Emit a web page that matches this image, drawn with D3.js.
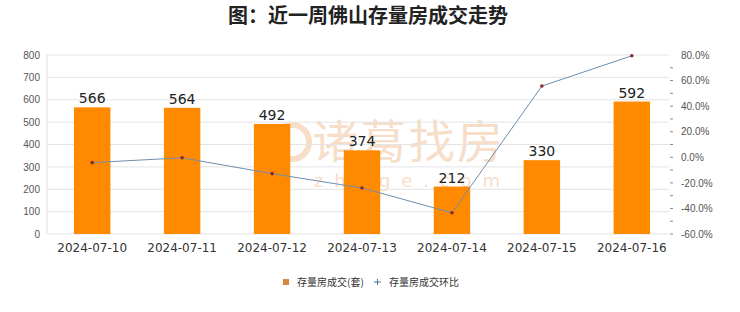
<!DOCTYPE html>
<html>
<head>
<meta charset="utf-8">
<script src="https://cdn.jsdelivr.net/npm/d3@7"></script>
<style>
  body { margin: 0; background: #fff; }
  svg { font-family: "Noto Sans CJK SC", "DejaVu Sans", sans-serif; }
</style>
</head>
<body>
<div id="vis"></div>
<script>
const FRAME_WIDTH = 740;
const FRAME_HEIGHT = 312;
const MARGINS = {left: 47, right: 63, top: 55, bottom: 78};

const VIS_WIDTH = FRAME_WIDTH - MARGINS.left - MARGINS.right;
const VIS_HEIGHT = FRAME_HEIGHT - MARGINS.top - MARGINS.bottom;

// data
const dates = ["2024-07-10", "2024-07-11", "2024-07-12", "2024-07-13", "2024-07-14", "2024-07-15", "2024-07-16"];
const deals = [566, 564, 492, 374, 212, 330, 592];
const change = [-4.2, -0.4, -12.8, -24.0, -43.4, 55.7, 79.4];
const leftTicks = [0, 100, 200, 300, 400, 500, 600, 700, 800];
const rightTicks = [-60, -40, -20, 0, 20, 40, 60, 80];

const FRAME = d3.select("#vis")
  .append("svg")
    .attr("width", FRAME_WIDTH)
    .attr("height", FRAME_HEIGHT);

const X_SCALE = d3.scaleBand()
  .domain(dates)
  .range([MARGINS.left, MARGINS.left + VIS_WIDTH])
  .paddingInner(0.595)
  .paddingOuter(0.3);

const Y_SCALE = d3.scaleLinear()
  .domain([0, 800])
  .range([MARGINS.top + VIS_HEIGHT, MARGINS.top]);

const Y2_SCALE = d3.scaleLinear()
  .domain([-60, 80])
  .range([MARGINS.top + VIS_HEIGHT, MARGINS.top]);

// watermark (drawn under everything)
const wm = FRAME.append("g").attr("opacity", 0.45);
wm.append("circle")
  .attr("cx", 292).attr("cy", 142).attr("r", 17)
  .attr("fill", "none").attr("stroke", "#eeb78a").attr("stroke-width", 6);
wm.append("text")
  .attr("x", 312).attr("y", 158)
  .attr("textLength", 191)
  .style("font-size", "46px")
  .attr("fill", "#eeb78a")
  .text("诸葛找房");
wm.append("text")
  .attr("x", 314).attr("y", 187)
  .attr("textLength", 186)
  .style("font-size", "18px")
  .style("font-family", "DejaVu Sans, sans-serif")
  .attr("fill", "#eeb78a")
  .text("zhuge.com");

// grid lines
FRAME.append("g")
  .selectAll("line")
  .data(leftTicks)
  .enter()
  .append("line")
    .attr("x1", MARGINS.left)
    .attr("x2", MARGINS.left + VIS_WIDTH - 8)
    .attr("y1", d => Y_SCALE(d))
    .attr("y2", d => Y_SCALE(d))
    .attr("stroke", "#e4e4e4");

FRAME.append("line")
  .attr("x1", MARGINS.left).attr("x2", MARGINS.left)
  .attr("y1", MARGINS.top).attr("y2", MARGINS.top + VIS_HEIGHT)
  .attr("stroke", "#e0e0e0");

// left axis
const leftAxis = FRAME.append("g")
  .attr("transform", "translate(" + MARGINS.left + ",0)")
  .call(d3.axisLeft(Y_SCALE).tickValues(leftTicks).tickSize(0).tickPadding(7));
leftAxis.select(".domain").remove();
leftAxis.selectAll("text")
  .attr("fill", "#555")
  .style("font-size", "10px")
  .style("font-family", "Liberation Sans, Arial, sans-serif");

// right axis
const rightX = MARGINS.left + VIS_WIDTH - 6;
const rightAxis = FRAME.append("g")
  .attr("transform", "translate(" + rightX + ",0)")
  .call(d3.axisRight(Y2_SCALE).tickValues(rightTicks).tickSize(0).tickPadding(10)
    .tickFormat(d => d.toFixed(1) + "%"));
rightAxis.select(".domain").remove();
rightAxis.selectAll("text")
  .attr("fill", "#555")
  .style("font-size", "10px")
  .style("font-family", "Liberation Sans, Arial, sans-serif");

FRAME.append("g")
  .selectAll("line")
  .data(d3.range(-60, 81, 10).filter(d => d != 80))
  .enter()
  .append("line")
    .attr("x1", rightX - 1)
    .attr("x2", rightX + 2)
    .attr("y1", d => Y2_SCALE(d))
    .attr("y2", d => Y2_SCALE(d))
    .attr("stroke", "#888");

// bars
FRAME.append("g")
  .selectAll("rect")
  .data(dates)
  .enter()
  .append("rect")
    .attr("x", d => X_SCALE(d))
    .attr("y", (d, i) => Y_SCALE(deals[i]))
    .attr("width", X_SCALE.bandwidth())
    .attr("height", (d, i) => Y_SCALE(0) - Y_SCALE(deals[i]))
    .attr("fill", "#ff8a00");

// bar labels
FRAME.append("g")
  .selectAll("text")
  .data(dates)
  .enter()
  .append("text")
    .attr("x", d => X_SCALE(d) + X_SCALE.bandwidth() / 2)
    .attr("y", (d, i) => Y_SCALE(deals[i]) - 4)
    .attr("text-anchor", "middle")
    .style("font-size", "14px")
    .style("font-family", "DejaVu Sans, sans-serif")
    .attr("fill", "#222")
    .text((d, i) => deals[i]);

// x labels
const bottomAxis = FRAME.append("g")
  .attr("transform", "translate(0," + (MARGINS.top + VIS_HEIGHT) + ")")
  .call(d3.axisBottom(X_SCALE).tickSize(0).tickPadding(9));
bottomAxis.select(".domain").remove();
bottomAxis.selectAll("text")
  .attr("fill", "#333")
  .style("font-size", "12px")
  .style("font-family", "DejaVu Sans, sans-serif");

// line
const line = d3.line()
  .x((d, i) => X_SCALE(dates[i]) + X_SCALE.bandwidth() / 2)
  .y(d => Y2_SCALE(d));

FRAME.append("path")
  .datum(change)
  .attr("d", line)
  .attr("fill", "none")
  .attr("stroke", "#6f8fae")
  .attr("stroke-width", 1);

FRAME.append("g")
  .selectAll("circle")
  .data(change)
  .enter()
  .append("circle")
    .attr("cx", (d, i) => X_SCALE(dates[i]) + X_SCALE.bandwidth() / 2)
    .attr("cy", d => Y2_SCALE(d))
    .attr("r", 1.8)
    .attr("fill", "#8a2a2a");

// title
FRAME.append("text")
  .attr("x", 368)
  .attr("y", 23)
  .attr("text-anchor", "middle")
  .style("font-size", "20px")
  .style("font-weight", "bold")
  .attr("fill", "#222")
  .text("图：近一周佛山存量房成交走势");

// legend
const legend = FRAME.append("g");
legend.append("rect")
  .attr("x", 283).attr("y", 279)
  .attr("width", 6).attr("height", 6)
  .attr("fill", "#d4883c");
legend.append("text")
  .attr("x", 297).attr("y", 286)
  .style("font-size", "10px")
  .attr("fill", "#333")
  .text("存量房成交(套)");
legend.append("path")
  .attr("d", "M374,282 h7 M377.5,279 v6")
  .attr("stroke", "#4a6f9a")
  .attr("stroke-width", 1);
legend.append("text")
  .attr("x", 389).attr("y", 286)
  .style("font-size", "10px")
  .attr("fill", "#333")
  .text("存量房成交环比");
</script>
</body>
</html>
